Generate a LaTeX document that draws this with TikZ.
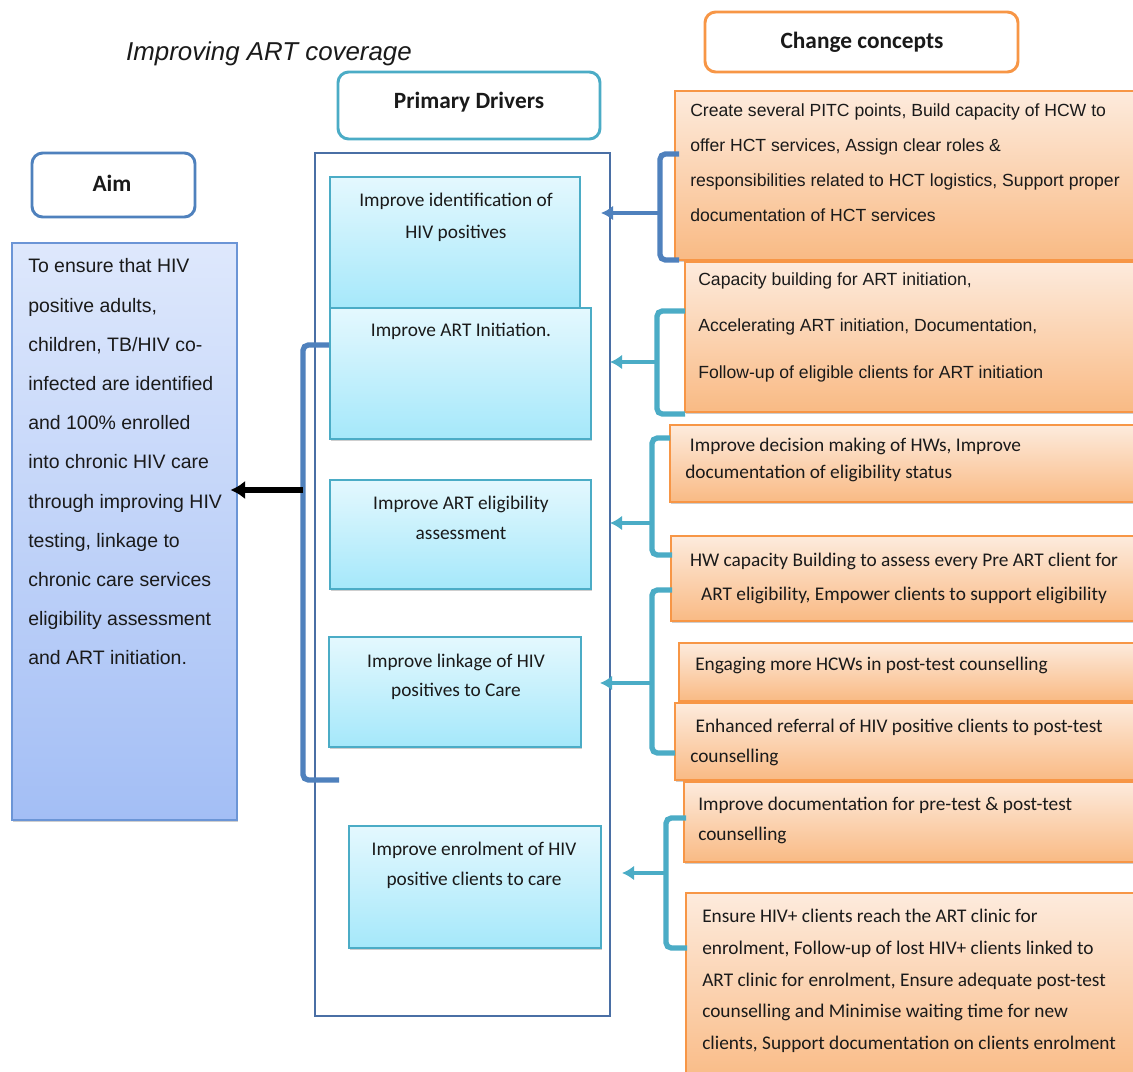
\documentclass[tikz,border=0pt]{standalone}
\usepackage{fontspec}
\setmainfont{Carlito}
\newfontfamily\arialf{Liberation Sans}
\usetikzlibrary{arrows.meta,shadows,fit,calc}
\definecolor{cTeal}{HTML}{4BACC6}
\definecolor{cBlue}{HTML}{4F81BD}
\definecolor{cCont}{HTML}{4A6FA5}
\definecolor{cOrg}{HTML}{F79646}
\definecolor{cOrgTop}{HTML}{FDEBDD}
\definecolor{cOrgBot}{HTML}{F9BA84}
\definecolor{cDrvTop}{HTML}{E4F8FE}
\definecolor{cDrvBot}{HTML}{A5E8FA}
\definecolor{cAimTop}{HTML}{DEE8FC}
\definecolor{cAimBot}{HTML}{A3BEF5}
\definecolor{cAimLine}{HTML}{6B95D6}
\definecolor{cTxt}{HTML}{1A1A1A}
\begin{document}
\begin{tikzpicture}[x=0.75pt,y=-0.75pt,
  hdr/.style={draw, line width=2.2pt, rounded corners=8pt, fill=white, inner sep=0pt},
  htxt/.style={inner sep=0pt, text=cTxt, font=\bfseries\fontsize{17.5}{20}\selectfont},
  shd/.style={drop shadow={shadow xshift=0.8pt, shadow yshift=-1.8pt, opacity=0.35, fill=black!55}},
  drv/.style={draw=cTeal, line width=1.2pt, top color=cDrvTop, bottom color=cDrvBot, inner sep=0pt, shd},
  chg/.style={draw=cOrg, line width=1.2pt, top color=cOrgTop, bottom color=cOrgBot, inner sep=0pt, shd},
  aimbox/.style={draw=cAimLine, line width=1.2pt, top color=cAimTop, bottom color=cAimBot, inner sep=0pt, shd},
  ctxt/.style={inner sep=0pt, text=cTxt, align=center},
  ltxt/.style={inner sep=0pt, text=cTxt, align=left, anchor=west},
  brk/.style={line width=4pt, rounded corners=4pt, draw=cTeal},
  bbrk/.style={line width=4pt, rounded corners=4pt, draw=cBlue},
  arr/.style={line width=3.6pt, draw=cTeal, -{Latex[length=9pt,width=11pt]}},
  barr/.style={line width=3.6pt, draw=cBlue, -{Latex[length=9pt,width=11pt]}},
  karr/.style={line width=3.8pt, draw=black, -{Latex[length=11pt,width=14pt]}}
]
\useasboundingbox[fill=white] (0,0) rectangle (1133,1072);

% title and headers
\node[inner sep=0pt, text=cTxt, font=\arialf\itshape\fontsize{19.4}{23}\selectfont] (title) at (269,54) {Improving ART coverage};
\node[hdr, draw=cTeal, fit={(338,72) (600,139)}] (pd) {};
\node[htxt] (pdt) at (469,102) {Primary Drivers};
\node[hdr, draw=cBlue, fit={(32,153) (195,217)}] (aimh) {};
\node[htxt] (aimht) at (112,183) {Aim};
\node[hdr, draw=cOrg, fit={(705,12) (1018,72)}] (cch) {};
\node[htxt] (ccht) at (862,42) {Change concepts};

% aim
\node[aimbox, fit={(12,243) (237,820)}] (aim) {};
\node[ltxt, font=\arialf\fontsize{14.6}{29.4}\selectfont] (aimt) at (28,462)
 {To ensure that HIV\\positive adults,\\children, TB/HIV co-\\infected are identified\\and 100\% enrolled\\into chronic HIV care\\through improving HIV\\testing, linkage to\\chronic care services\\eligibility assessment\\and ART initiation.};

% container of primary drivers
\node[draw=cCont, line width=1.1pt, inner sep=0pt, fit={(315,153) (610,1016)}] (cont) {};

% primary drivers
\node[drv, fit={(330,177) (580,310)}] (d1) {};
\node[ctxt, font=\fontsize{14.5}{24}\selectfont] (d1t) at (456,217) {Improve identification of\\HIV positives};
\node[drv, fit={(330,308) (591,439)}] (d2) {};
\node[ctxt, font=\fontsize{14.5}{22.5}\selectfont] (d2t) at (461,331) {Improve ART Initiation.};
\node[drv, fit={(330,480) (591,589)}] (d3) {};
\node[ctxt, font=\fontsize{14.5}{22.5}\selectfont] (d3t) at (461,518) {Improve ART eligibility\\assessment};
\node[drv, fit={(329,637) (581,747)}] (d4) {};
\node[ctxt, font=\fontsize{14.5}{22}\selectfont] (d4t) at (456,677) {Improve linkage of HIV\\positives to Care};
\node[drv, fit={(349,826) (601,948)}] (d5) {};
\node[ctxt, font=\fontsize{14.5}{22.5}\selectfont] (d5t) at (474,865) {Improve enrolment of HIV\\positive clients to care};

% change concepts
\node[chg, fit={(675,91) (1140,260)}] (cA) {};
\node[ltxt, font=\arialf\fontsize{13.2}{26.25}\selectfont] (cAt) at (690,163)
 {Create several PITC points, Build capacity of HCW to\\offer HCT services, Assign clear roles \&\\responsibilities related to HCT logistics, Support proper\\documentation of HCT services};
\node[chg, fit={(685,262) (1140,412)}] (cB) {};
\node[ltxt, font=\arialf\fontsize{13.2}{34.9}\selectfont] (cBt) at (698,327)
 {Capacity building for ART initiation,\\Accelerating ART initiation, Documentation,\\Follow-up of eligible clients for ART initiation};
\node[chg, fit={(670,425) (1140,502)}] (cC) {};
\node[ltxt, font=\fontsize{14.5}{20.25}\selectfont] (cCt) at (685,460)
 {\hspace*{3.5pt}Improve decision making of HWs, Improve\\documentation of eligibility status};
\node[chg, fit={(671,536) (1140,621)}] (cD) {};
\node[ctxt, font=\fontsize{14.5}{25.5}\selectfont] (cDt) at (904,578)
 {HW capacity Building to assess every Pre ART client for\\ART eligibility, Empower clients to support eligibility};
\node[chg, fit={(679,643) (1140,701)}] (cE) {};
\node[ltxt, font=\fontsize{14.5}{22.5}\selectfont] (cEt) at (695,665)
 {Engaging more HCWs in post-test counselling};
\node[chg, fit={(675,703) (1140,780)}] (cF) {};
\node[ltxt, font=\fontsize{14.5}{22.5}\selectfont] (cFt) at (690,742)
 {\hspace*{4pt}Enhanced referral of HIV positive clients to post-test\\counselling};
\node[chg, fit={(684,782) (1140,862)}] (cG) {};
\node[ltxt, font=\fontsize{14.5}{22.5}\selectfont] (cGt) at (698,820)
 {Improve documentation for pre-test \& post-test\\counselling};
\node[chg, fit={(686,893) (1140,1085)}] (cH) {};
\node[ltxt, font=\fontsize{14.5}{23.8}\selectfont] (cHt) at (702,981)
 {Ensure HIV+ clients reach the ART clinic for\\enrolment, Follow-up of lost HIV+ clients linked to\\ART clinic for enrolment, Ensure adequate post-test\\counselling and Minimise waiting time for new\\clients, Support documentation on clients enrolment};

% bracket coordinates
\coordinate (k1a) at (679,154); \coordinate (k1b) at (660,154); \coordinate (k1c) at (660,260); \coordinate (k1d) at (679,260);
\coordinate (k1m) at (660,213); \coordinate (k1t) at (601,213);
\coordinate (k2a) at (685,311); \coordinate (k2b) at (657,311); \coordinate (k2c) at (657,414); \coordinate (k2d) at (685,414);
\coordinate (k2m) at (657,362); \coordinate (k2t) at (610,362);
\coordinate (k3a) at (670,438); \coordinate (k3b) at (652,438); \coordinate (k3c) at (652,555); \coordinate (k3d) at (672,555);
\coordinate (k3m) at (652,523); \coordinate (k3t) at (610,523);
\coordinate (k4a) at (672,590); \coordinate (k4b) at (652,590); \coordinate (k4c) at (652,753); \coordinate (k4d) at (675,753);
\coordinate (k4m) at (652,683); \coordinate (k4t) at (600,683);
\coordinate (k5a) at (686,818); \coordinate (k5b) at (666,818); \coordinate (k5c) at (666,948); \coordinate (k5d) at (687,948);
\coordinate (k5m) at (666,873); \coordinate (k5t) at (622,873);
\coordinate (lka) at (329,345); \coordinate (lkb) at (303,345); \coordinate (lkc) at (303,780); \coordinate (lkd) at (339,780);
\coordinate (lkm) at (303,490);

% brackets and arrows
\draw[bbrk] (k1a) -- (k1b) -- (k1c) -- (k1d);
\draw[barr] (k1m) -- (k1t);
\draw[brk] (k2a) -- (k2b) -- (k2c) -- (k2d);
\draw[arr] (k2m) -- (k2t);
\draw[brk] (k3a) -- (k3b) -- (k3c) -- (k3d);
\draw[arr] (k3m) -- (k3t);
\draw[brk] (k4a) -- (k4b) -- (k4c) -- (k4d);
\draw[arr] (k4m) -- (k4t);
\draw[brk] (k5a) -- (k5b) -- (k5c) -- (k5d);
\draw[arr] (k5m) -- (k5t);
\draw[bbrk] (lka) -- (lkb) -- (lkc) -- (lkd);
\draw[karr] (lkm) -- ([xshift=-5.5pt]aim.east |- lkm);
\end{tikzpicture}
\end{document}
